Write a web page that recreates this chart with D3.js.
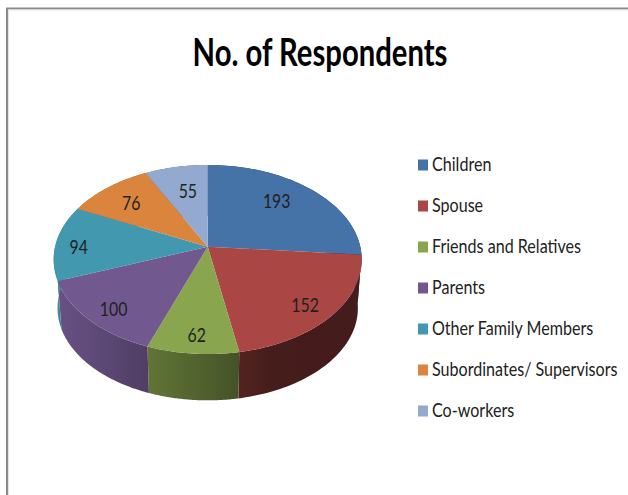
<!DOCTYPE html>
<html>
<head>
<meta charset="utf-8">
<script src="https://cdnjs.cloudflare.com/ajax/libs/d3/7.8.5/d3.min.js"></script>
<style>
  html, body { margin: 0; padding: 0; background: #fff; }
  svg { display: block; }
  text { font-family: Lato, "Open Sans", sans-serif; }
</style>
</head>
<body>
<svg id="chart" width="628" height="495"></svg>
<script>
const chartTitle = "No. of Respondents";
const categories = ["Children", "Spouse", "Friends and Relatives", "Parents", "Other Family Members", "Subordinates/ Supervisors", "Co-workers"];
const respondents = [193, 152, 62, 100, 94, 76, 55];
const sliceColors = ["#4572a7", "#aa4643", "#89a54e", "#71588f", "#4198af", "#db843d", "#93a9cf"];

// Layout of the tilted disc: a circle seen in perspective.
const apex = { x: 207.7, y: 246.7 };
const disc = { rx: 152.6, ry: 92.8, k: 0.1354 };
const rim = { drop: 49, scale: 0.975 };
const labelReach = [0.68, 0.8, 0.82, 0.8, 0.85, 0.75, 0.7];
const labelNudge = [[-3, -6], [0, 4], [1, 2], [-1, 4], [0, 3], [0, 1], [3, 1]];

const svg = d3.select("#chart");
const defs = svg.append("defs");

// Perspective projection of a point on the unit disc at angle a (clockwise from 12 o'clock).
function project(a, r, drop = 0, scale = 1) {
  const u = r * Math.sin(a), v = -r * Math.cos(a), w = 1 - disc.k * v;
  return [apex.x + scale * disc.rx * u / w, apex.y + drop + scale * disc.ry * v / w];
}

const pie = d3.pie().sort(null).value(d => d)(respondents);
const line = d3.line();
const arcAngles = d => d3.range(0, 61).map(i => d.startAngle + (d.endAngle - d.startAngle) * i / 60);

// Frame of the chart area: only the top and left edges fall inside the page.
const frame = svg.append("g");
frame.append("path").attr("d", "M7,495V8.5H628").attr("fill", "none").attr("stroke", "#8a8a8a").attr("stroke-width", 2);
frame.append("path").attr("d", "M8.5,495V10H628").attr("fill", "none").attr("stroke", "#e4e4e4").attr("stroke-width", 1);

// Brightness of the rim falls off from left to right.
const rimShade = d3.scaleLinear().domain([54, 148, 239, 268, 361]).range([0.93, 0.71, 0.5, 0.41, 0.4]).clamp(true);

const sides = svg.append("g");
const tops = svg.append("g");

pie.forEach((d, i) => {
  const angles = arcAngles(d);
  const upper = angles.map(a => project(a, 1));
  const lower = angles.map(a => project(a, 1, rim.drop, rim.scale));
  const xs = upper.concat(lower).map(p => p[0]);
  const [x0, x1] = d3.extent(xs);
  const base = d3.rgb(sliceColors[i]);
  const grad = defs.append("linearGradient").attr("id", "rim" + i)
    .attr("gradientUnits", "userSpaceOnUse").attr("x1", x0).attr("x2", x1).attr("y1", 0).attr("y2", 0);
  d3.range(0, 13).forEach(s => {
    const t = s / 12, f = rimShade(x0 + (x1 - x0) * t);
    grad.append("stop").attr("offset", t)
      .attr("stop-color", d3.rgb(base.r * f, base.g * f, base.b * f).formatHex());
  });
  sides.append("path")
    .attr("d", line(upper.concat(lower.slice().reverse())) + "Z")
    .attr("fill", `url(#rim${i})`);
  tops.append("path")
    .attr("d", line([[apex.x, apex.y]].concat(upper)) + "Z")
    .attr("fill", sliceColors[i]);
});

// Value labels
const labels = svg.append("g").attr("fill", "#1f1f1f");
pie.forEach((d, i) => {
  const [x, y] = project((d.startAngle + d.endAngle) / 2, labelReach[i]);
  labels.append("text")
    .attr("transform", `translate(${x + labelNudge[i][0]},${y + labelNudge[i][1]}) scale(0.79,1)`)
    .attr("text-anchor", "middle").attr("dominant-baseline", "central")
    .attr("font-size", 20).text(d.data);
});

// Title
svg.append("text")
  .attr("transform", "translate(320,66) scale(0.75,1)")
  .attr("text-anchor", "middle")
  .attr("font-size", 39).attr("font-weight", 700).attr("fill", "#000")
  .text(chartTitle);

// Legend
const legendY = d3.scalePoint().domain(categories).range([165, 411]);
const legend = svg.append("g").selectAll("g").data(categories).join("g")
  .attr("transform", d => `translate(418,${legendY(d)})`);
legend.append("rect").attr("x", 0).attr("y", -5.5).attr("width", 10).attr("height", 11)
  .attr("fill", (d, i) => sliceColors[i]);
legend.append("text")
  .attr("transform", "translate(14,6) scale(0.805,1)")
  .attr("font-size", 20).attr("fill", "#222")
  .text(d => d);
</script>
</body>
</html>
